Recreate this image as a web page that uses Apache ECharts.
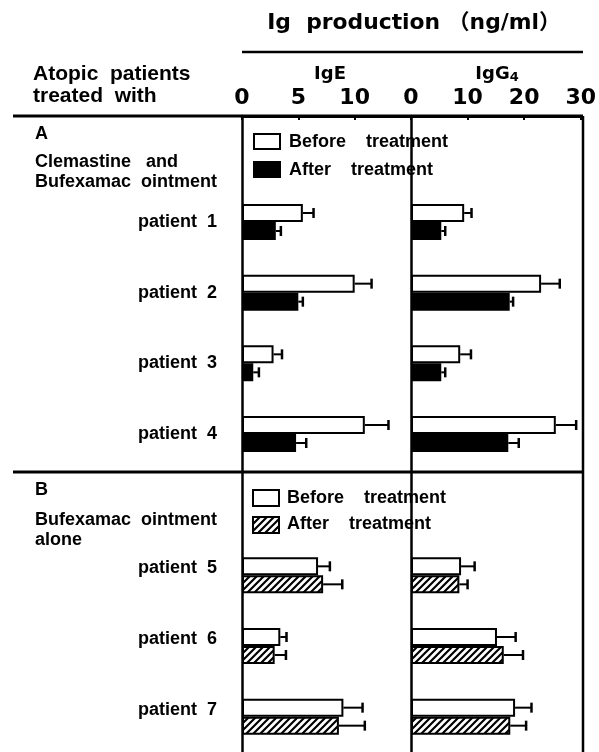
<!DOCTYPE html>
<html>
<head>
<meta charset="utf-8">
<script src="https://cdn.jsdelivr.net/npm/echarts@6/dist/echarts.min.js"></script>
<style>html,body{margin:0;padding:0;background:#fff}#c{width:599px;height:752px}</style>
</head>
<body>
<div id="c"></div>
<script>
// ---------- data ----------
const panelAPatients = ['patient 1', 'patient 2', 'patient 3', 'patient 4'];
const panelBPatients = ['patient 5', 'patient 6', 'patient 7'];
const igeBefore     = [5.4, 10.0, 2.8, 10.9, 6.75, 3.4, 9.0];
const igeBeforeErr  = [0.95, 1.5, 0.75, 2.1, 1.05, 0.55, 1.7];
const igeAfter      = [3.0, 5.0, 1.0, 4.8, 7.2, 2.9, 8.6];
const igeAfterErr   = [0.45, 0.4, 0.5, 0.9, 1.7, 1.0, 2.3];
const igg4Before    = [9.4, 23.0, 8.7, 25.6, 8.85, 15.2, 18.4];
const igg4BeforeErr = [1.3, 3.3, 1.9, 3.6, 2.4, 3.3, 2.9];
const igg4After     = [5.35, 17.45, 5.35, 17.2, 8.55, 16.4, 17.55];
const igg4AfterErr  = [0.7, 0.6, 0.7, 1.85, 1.45, 3.4, 2.8];
const igeTicks = [0, 5, 10];
const igg4Ticks = [0, 10, 20, 30];

// ---------- layout ----------
const W = 599, H = 752;
const TOP = 116, SLOT = 71.2;
const X0 = 242, XMID = 411, XR = 583, XL = 13;
const BARW = 18;
const categories = ['', ...panelAPatients, ' ', ...panelBPatients];
const NROWS = categories.length;
const rowOf = i => (i < panelAPatients.length ? 1 + i : 2 + i);
const isB = i => i >= panelAPatients.length;

function hatchCanvas() {
  const s = 7, c = document.createElement('canvas');
  c.width = s; c.height = s;
  const g = c.getContext('2d');
  g.fillStyle = '#fff'; g.fillRect(0, 0, s, s);
  g.strokeStyle = '#000'; g.lineWidth = 2.2; g.lineCap = 'square';
  g.beginPath();
  g.moveTo(-1, s + 1); g.lineTo(s + 1, -1);
  g.moveTo(-2, 2); g.lineTo(2, -2);
  g.moveTo(s - 2, s + 2); g.lineTo(s + 2, s - 2);
  g.stroke();
  return c;
}
const hatch = { image: hatchCanvas(), repeat: 'repeat' };

function barData(vals, after) {
  const d = categories.map(() => '-');
  vals.forEach((v, i) => {
    const item = { value: v };
    if (after) item.itemStyle = { color: isB(i) ? hatch : '#000' };
    d[rowOf(i)] = item;
  });
  return d;
}
function errData(vals, errs, which) {
  return vals.map((v, i) => [v, errs[i], rowOf(i), which]);
}
function renderErr(params, api) {
  const v = api.value(0), e = api.value(1), r = api.value(2), w = api.value(3);
  const p0 = api.coord([v, r]);
  const p1 = api.coord([v + e, r]);
  const y = p0[1] + (w === 0 ? -1 : 1) * BARW / 2;
  return {
    type: 'group',
    children: [
      { type: 'line', shape: { x1: p0[0], y1: y, x2: p1[0], y2: y }, style: { stroke: '#000', lineWidth: 2 } },
      { type: 'line', shape: { x1: p1[0], y1: y - 5, x2: p1[0], y2: y + 5 }, style: { stroke: '#000', lineWidth: 2.5 } }
    ]
  };
}

const bodyFont = "'Liberation Sans', Arial, sans-serif";
const headFont = "'DejaVu Sans', 'Noto Sans CJK JP', sans-serif";
const txt = (x, y, text, size, family, align) => ({
  type: 'text', x, y, z: 20,
  style: { text, fill: '#000', font: 'bold ' + size + 'px ' + family, textAlign: align || 'left', textVerticalAlign: 'middle' }
});
const line = (x1, y1, x2, y2, w) => ({
  type: 'line', z: 15, shape: { x1, y1, x2, y2 }, style: { stroke: '#000', lineWidth: w || 2.5 }
});
const box = (x, y, w, h, fill) => ({
  type: 'rect', z: 15, shape: { x, y, width: w, height: h }, style: { fill, stroke: '#000', lineWidth: 2 }
});

const gridH = SLOT * NROWS;
const sepY = TOP + SLOT * (panelAPatients.length + 1);

const xAxisCommon = {
  type: 'value', position: 'top',
  axisLine: { show: true, lineStyle: { color: '#000', width: 3 } },
  axisTick: { show: true, inside: true, length: 4, lineStyle: { color: '#000', width: 2 } },
  splitLine: { show: false },
  axisLabel: { color: '#000', fontFamily: headFont, fontWeight: 'bold', fontSize: 22, margin: 7 }
};
const yAxisCommon = {
  type: 'category', data: categories, inverse: true,
  axisLine: { show: true, onZero: false, lineStyle: { color: '#000', width: 2.5 } },
  axisTick: { show: false }, splitLine: { show: false }
};

const option = {
  animation: false,
  backgroundColor: '#fff',
  grid: [
    { left: X0, width: XMID - X0, top: TOP, height: gridH, containLabel: false },
    { left: XMID, width: XR - XMID, top: TOP, height: gridH, containLabel: false }
  ],
  xAxis: [
    Object.assign({}, xAxisCommon, { gridIndex: 0, min: 0, max: 15, interval: 5,
      axisLabel: Object.assign({}, xAxisCommon.axisLabel, { formatter: v => (igeTicks.includes(v) ? String(v) : '') }) }),
    Object.assign({}, xAxisCommon, { gridIndex: 1, min: 0, max: 30, interval: 10,
      axisLabel: Object.assign({}, xAxisCommon.axisLabel, { formatter: v => (igg4Ticks.includes(v) ? String(v) : '') }) })
  ],
  yAxis: [
    Object.assign({}, yAxisCommon, { gridIndex: 0,
      axisLabel: {
        show: true, margin: 25, color: '#000', fontFamily: bodyFont, fontWeight: 'bold', fontSize: 18,
        formatter: v => {
          const s = v.replace(' ', '  ');
          return panelBPatients.includes(v) ? '{b|' + s + '}' : s;
        },
        rich: { b: { padding: [0, 0, 14, 0], color: '#000', fontFamily: bodyFont, fontWeight: 'bold', fontSize: 18 } }
      } }),
    Object.assign({}, yAxisCommon, { gridIndex: 1, axisLabel: { show: false } })
  ],
  series: [
    { name: 'Before treatment', type: 'bar', xAxisIndex: 0, yAxisIndex: 0, barWidth: BARW, barGap: '0%',
      itemStyle: { color: '#fff', borderColor: '#000', borderWidth: 2 }, data: barData(igeBefore, false) },
    { name: 'After treatment', type: 'bar', xAxisIndex: 0, yAxisIndex: 0, barWidth: BARW, barGap: '0%',
      itemStyle: { color: '#000', borderColor: '#000', borderWidth: 2 }, data: barData(igeAfter, true) },
    { name: 'Before treatment', type: 'bar', xAxisIndex: 1, yAxisIndex: 1, barWidth: BARW, barGap: '0%',
      itemStyle: { color: '#fff', borderColor: '#000', borderWidth: 2 }, data: barData(igg4Before, false) },
    { name: 'After treatment', type: 'bar', xAxisIndex: 1, yAxisIndex: 1, barWidth: BARW, barGap: '0%',
      itemStyle: { color: '#000', borderColor: '#000', borderWidth: 2 }, data: barData(igg4After, true) },
    { type: 'custom', xAxisIndex: 0, yAxisIndex: 0, z: 5, renderItem: renderErr,
      encode: { x: [0, 1], y: 2 }, data: errData(igeBefore, igeBeforeErr, 0).concat(errData(igeAfter, igeAfterErr, 1)) },
    { type: 'custom', xAxisIndex: 1, yAxisIndex: 1, z: 5, renderItem: renderErr,
      encode: { x: [0, 1], y: 2 }, data: errData(igg4Before, igg4BeforeErr, 0).concat(errData(igg4After, igg4AfterErr, 1)) }
  ],
  graphic: [
    // header
    { type: 'text', x: 414, y: 24, z: 20, scaleX: 1.04, originX: 0, originY: 0,
      style: { text: 'Ig  production （ng/ml）', fill: '#000', font: 'bold 21px ' + headFont, textAlign: 'center', textVerticalAlign: 'middle' } },
    line(X0, 52, XR, 52, 2.5),
    txt(330, 74, 'IgE', 18, headFont, 'center'),
    { type: 'text', x: 497, y: 74, z: 20,
      style: { text: 'IgG{s|4}', fill: '#000', font: 'bold 18px ' + headFont, textAlign: 'center', textVerticalAlign: 'middle',
        rich: { s: { fontSize: 13, fontWeight: 'bold', fontFamily: headFont, padding: [8, 0, 0, 0], fill: '#000' } } } },
    txt(33, 74, 'Atopic  patients', 21, bodyFont),
    txt(33, 96, 'treated  with', 21, bodyFont),
    // frame lines
    line(XL, TOP, XR, TOP, 3),
    line(XL, sepY, XR, sepY, 3),
    line(XR, TOP, XR, H, 2.5),
    // panel A
    txt(35, 134, 'A', 18, bodyFont),
    txt(35, 162, 'Clemastine   and', 18, bodyFont),
    txt(35, 182, 'Bufexamac  ointment', 18, bodyFont),
    box(254, 134, 26, 15, '#fff'),
    box(254, 162, 26, 15, '#000'),
    txt(289, 142, 'Before    treatment', 18, bodyFont),
    txt(289, 170, 'After    treatment', 18, bodyFont),
    // panel B
    txt(35, 490, 'B', 18, bodyFont),
    txt(35, 520, 'Bufexamac  ointment', 18, bodyFont),
    txt(35, 540, 'alone', 18, bodyFont),
    box(253, 490, 26, 16, '#fff'),
    box(253, 517, 26, 16, hatch),
    txt(287, 498, 'Before    treatment', 18, bodyFont),
    txt(287, 524, 'After    treatment', 18, bodyFont)
  ]
};

const chart = echarts.init(document.getElementById('c'), null, { renderer: 'canvas', width: W, height: H });
chart.setOption(option);
</script>
</body>
</html>
